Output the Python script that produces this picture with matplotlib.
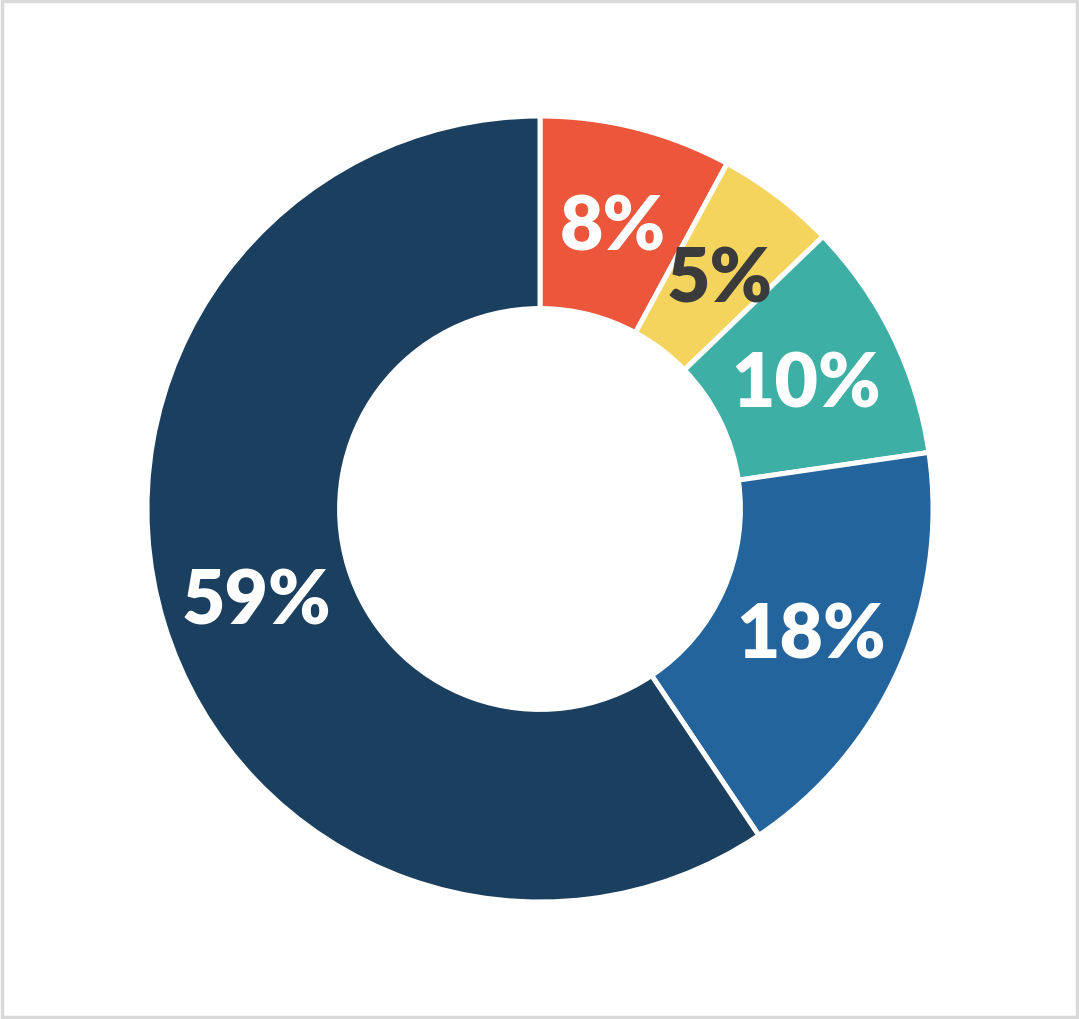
import matplotlib.pyplot as plt
from matplotlib.patches import Rectangle

# shares, clockwise from 12 o'clock
values = [7.9, 4.9, 9.9, 17.9, 59.4]
colors = ['#EC573B', '#F5D45E', '#3DAFA5', '#22649B', '#1A3F5F']
text_colors = ['white', '#3B3B3B', 'white', 'white', 'white']


def main():
    fig = plt.figure(figsize=(10.79, 10.2), dpi=100)
    ax = fig.add_axes([0, 0, 1, 1])

    wedges, texts, autotexts = ax.pie(
        values, colors=colors, startangle=90, counterclock=False,
        radius=1, autopct='%.0f%%', pctdistance=0.755,
        wedgeprops=dict(width=0.49, edgecolor='white', linewidth=3.6),
        textprops=dict(fontsize=54, fontweight='heavy', family=['Lato', 'DejaVu Sans']))
    for t, c in zip(autotexts, text_colors):
        t.set_color(c)
        t.set_va('center_baseline')

    # centre at (540, 510) px, outer radius 393 px
    r = 393.0
    ax.set_xlim(-540 / r, (1079 - 540) / r)
    ax.set_ylim(-510 / r, 510 / r)
    ax.set_aspect('auto')
    ax.axis('off')

    fig.patches.append(Rectangle((0.0015, 0.0015), 0.997, 0.997, transform=fig.transFigure,
                                 fill=False, edgecolor='#D9D9D9', linewidth=2.5))
    fig.savefig('out.png', dpi=100)


if __name__ == '__main__':
    main()
